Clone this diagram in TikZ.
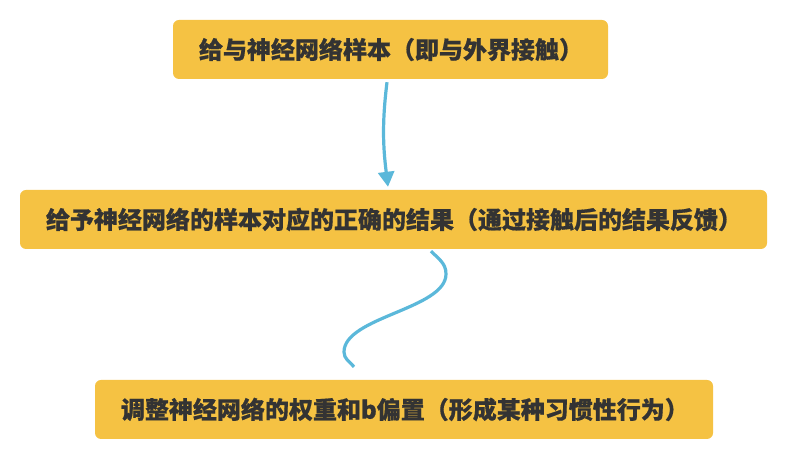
\documentclass[tikz,border=0pt]{standalone}
\usepackage{fontspec}
\newfontfamily\cjk{Noto Sans CJK SC}[BoldFeatures={FakeBold=0.6}]
\usetikzlibrary{arrows.meta}
\definecolor{boxfill}{RGB}{245,194,67}
\definecolor{linecol}{RGB}{91,184,218}
\definecolor{textcol}{RGB}{51,51,51}
\begin{document}
\begin{tikzpicture}[x=1pt,y=1pt,
box/.style={fill=boxfill,rounded corners=6pt,minimum height=59pt,inner xsep=26pt,text width=#1,align=left,text=textcol,font=\cjk\bfseries\fontsize{24pt}{28pt}\selectfont},
link/.style={draw=linecol,line width=3.2pt}]
\useasboundingbox (0,0) rectangle (788,460);
\path
(390.5,410.5) node[box=383pt](1){给与神经网络样本（即与外界接触）}
(393.5,240.5) node[box=695pt](2){给予神经网络的样本对应的正确的结果（通过接触后的结果反馈）}
(404,50.5) node[box=566pt](3){调整神经网络的权重和b偏置（形成某种习惯性行为）};
\coordinate (4) at ([xshift=-3.5pt,yshift=-3pt]1.south);
\coordinate (5) at ([xshift=-5.5pt,yshift=3pt]2.north);
\coordinate (6) at ([xshift=37.5pt,yshift=-2pt]2.south);
\coordinate (7) at ([xshift=-50pt,yshift=13pt]3.north);
\path[link,-{Triangle[width=16pt,length=15pt]}] (4) to [out=-97,in=97] (5);
\path[link] (6) to [out=-45,in=90] (446,186) to [out=-90,in=90,looseness=0.7] (344,108) to [out=-90,in=130] (7);
\end{tikzpicture}
\end{document}
